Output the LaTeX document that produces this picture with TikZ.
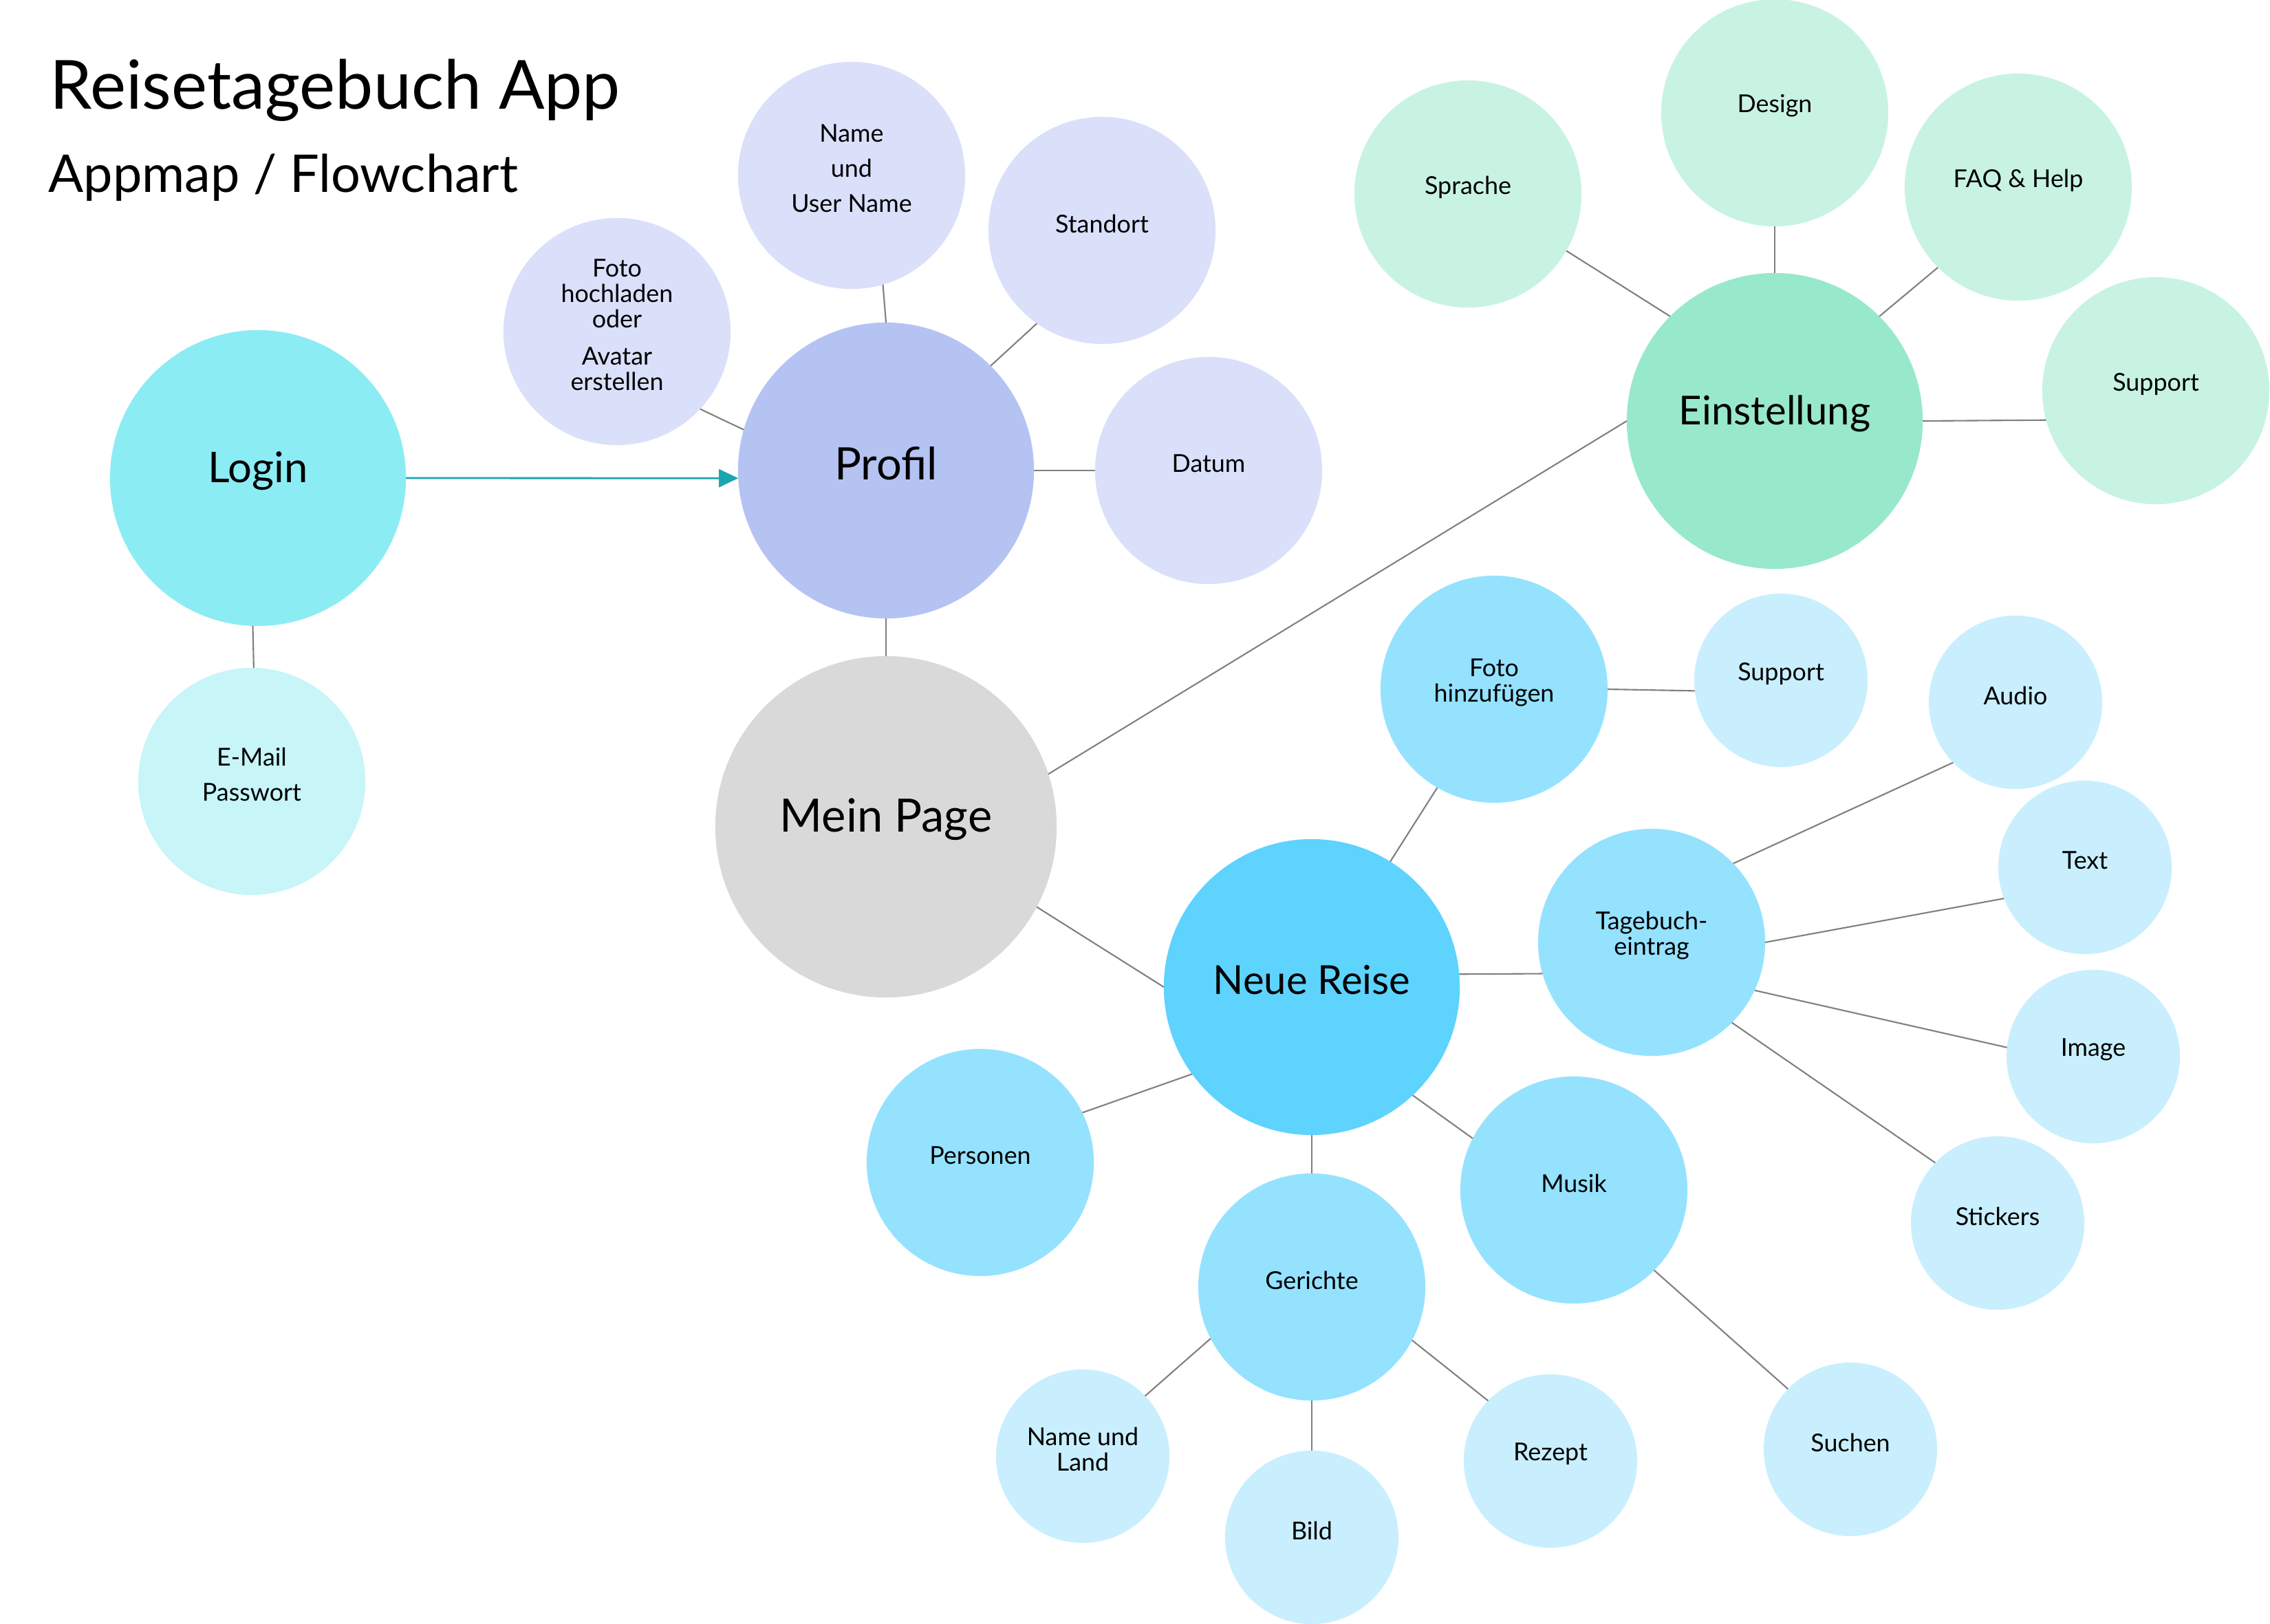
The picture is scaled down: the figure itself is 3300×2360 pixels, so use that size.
\documentclass[tikz,border=0pt]{standalone}
\usepackage{fontspec}
\setmainfont{Lato}
\usetikzlibrary{arrows.meta}
\definecolor{cLogin}{HTML}{8CECF4}
\definecolor{cMail}{HTML}{C7F5F8}
\definecolor{cProf}{HTML}{B5C3F3}
\definecolor{cProfK}{HTML}{DAE0FA}
\definecolor{cMP}{HTML}{D9D9D9}
\definecolor{cEin}{HTML}{98E9CB}
\definecolor{cEinK}{HTML}{C8F3E3}
\definecolor{cNR}{HTML}{5DD3FE}
\definecolor{cL2}{HTML}{95E2FF}
\definecolor{cL3}{HTML}{C9EFFE}
\definecolor{cLine}{HTML}{808080}
\definecolor{cArrow}{HTML}{1BA5AE}
\tikzset{
  bub/.style={circle, inner sep=0pt, outer sep=0pt, draw=none},
  bigbub/.style={bub, minimum size=4.3cm},
  midbub/.style={bub, minimum size=3.3cm},
  smlbub/.style={bub, minimum size=2.52cm},
  mpbub/.style={bub, minimum size=4.96cm},
  bigtxt/.style={inner sep=0pt, align=center, yshift=3pt, font=\fontsize{16.5}{19}\selectfont},
  stxt/.style={inner sep=0pt, align=center, yshift=2.8pt, font=\fontsize{10.2}{10.6}\selectfont},
  wtxt/.style={inner sep=0pt, align=center, yshift=2.8pt, font=\fontsize{10.2}{14.5}\selectfont},
  conn/.style={draw=cLine, line width=0.6pt},
  arr/.style={draw=cArrow, line width=0.8pt, -{Triangle[length=0.28cm, width=0.26cm]}}
}
\begin{document}
\begin{tikzpicture}[x=0.01cm, y=-0.01cm]
\path[use as bounding box, fill=white] (0,0) rectangle (3300,2360);

% title
\node[anchor=base west, inner sep=0pt, font=\fontsize{28}{32}\selectfont] (title) at (72,158) {Reisetagebuch App};
\node[anchor=base west, inner sep=0pt, font=\fontsize{21.5}{25}\selectfont] (subtitle) at (70,279) {Appmap / Flowchart};

% circles
\node[bigbub, fill=cLogin] (login) at (375,695) {};
\node[midbub, fill=cMail] (email) at (366,1136) {};
\node[bigbub, fill=cProf] (prof) at (1288,684) {};
\node[midbub, fill=cProfK] (fotoh) at (897,482) {};
\node[midbub, fill=cProfK] (name) at (1238,255) {};
\node[midbub, fill=cProfK] (stand) at (1602,335) {};
\node[midbub, fill=cProfK] (datum) at (1757,684) {};
\node[mpbub, fill=cMP] (mp) at (1288,1202) {};
\node[bigbub, fill=cEin] (ein) at (2580,612) {};
\node[midbub, fill=cEinK] (sprache) at (2134,282) {};
\node[midbub, fill=cEinK] (design) at (2580,164) {};
\node[midbub, fill=cEinK] (faq) at (2934,272) {};
\node[midbub, fill=cEinK] (supA) at (3134,568) {};
\node[bigbub, fill=cNR] (nr) at (1907,1435) {};
\node[midbub, fill=cL2] (fotoz) at (2172,1002) {};
\node[smlbub, fill=cL3] (supB) at (2589,989) {};
\node[midbub, fill=cL2] (tb) at (2401,1370) {};
\node[smlbub, fill=cL3] (audio) at (2930,1021) {};
\node[smlbub, fill=cL3] (text) at (3031,1261) {};
\node[smlbub, fill=cL3] (image) at (3043,1536) {};
\node[smlbub, fill=cL3] (stick) at (2904,1778) {};
\node[midbub, fill=cL2] (pers) at (1425,1690) {};
\node[midbub, fill=cL2] (musik) at (2288,1730) {};
\node[midbub, fill=cL2] (ger) at (1907,1871) {};
\node[smlbub, fill=cL3] (nul) at (1574,2117) {};
\node[smlbub, fill=cL3] (bild) at (1907,2235) {};
\node[smlbub, fill=cL3] (rez) at (2254,2124) {};
\node[smlbub, fill=cL3] (such) at (2690,2107) {};

% texts
\node[bigtxt, font=\fontsize{17.5}{20}\selectfont] (login-t) at (login) {Login};
\node[wtxt] (email-t) at (email) {E-Mail\\Passwort};
\node[bigtxt, font=\fontsize{18.5}{21}\selectfont] (prof-t) at (prof) {Profil};
\node[stxt] (fotoh-t) at (fotoh) {Foto\\hochladen\\oder\\[4.5pt]Avatar\\erstellen};
\node[wtxt] (name-t) at (name) {Name\\und\\User Name};
\node[stxt] (stand-t) at (stand) {Standort};
\node[stxt] (datum-t) at (datum) {Datum};
\node[bigtxt, font=\fontsize{19}{22}\selectfont] (mp-t) at (mp) {Mein Page};
\node[bigtxt] (ein-t) at (ein) {Einstellung};
\node[stxt] (sprache-t) at (sprache) {Sprache};
\node[stxt] (design-t) at (design) {Design};
\node[stxt] (faq-t) at (faq) {FAQ \& Help};
\node[stxt] (supA-t) at (supA) {Support};
\node[bigtxt] (nr-t) at (nr) {Neue Reise};
\node[stxt] (fotoz-t) at (fotoz) {Foto\\hinzufügen};
\node[stxt] (supB-t) at (supB) {Support};
\node[stxt] (tb-t) at (tb) {Tagebuch-\\eintrag};
\node[stxt] (audio-t) at (audio) {Audio};
\node[stxt] (text-t) at (text) {Text};
\node[stxt] (image-t) at (image) {Image};
\node[stxt] (stick-t) at (stick) {Stickers};
\node[stxt] (pers-t) at (pers) {Personen};
\node[stxt] (musik-t) at (musik) {Musik};
\node[stxt] (ger-t) at (ger) {Gerichte};
\node[stxt] (nul-t) at (nul) {Name und\\Land};
\node[stxt] (bild-t) at (bild) {Bild};
\node[stxt] (rez-t) at (rez) {Rezept};
\node[stxt] (such-t) at (such) {Suchen};

% connectors
\draw[arr] (login.0) -- (prof.183);
\draw[conn] (login.268) -- (email.89);
\draw[conn] (fotoh.-43) -- (prof.164);
\draw[conn] (name.-74) -- (prof.90);
\draw[conn] (stand.235) -- (prof.45);
\draw[conn] (prof.0) -- (datum.180);
\draw[conn] (prof.270) -- (mp.90);
\draw[conn] (mp.18) -- (ein.180);
\draw[conn] (sprache.-30) -- (ein.135);
\draw[conn] (design.270) -- (ein.90);
\draw[conn] (faq.225) -- (ein.45);
\draw[conn] (ein.0) -- (supA.195);
\draw[conn] (mp.-28) -- (nr.180);
\draw[conn] (nr.58) -- (fotoz.240);
\draw[conn] (fotoz.0) -- (supB.187);
\draw[conn] (nr.5) -- (tb.196);
\draw[conn] (nr.-47) -- (musik.153);
\draw[conn] (nr.270) -- (ger.90);
\draw[conn] (nr.216) -- (pers.26);
\draw[conn] (tb.44) -- (audio.224);
\draw[conn] (tb.0) -- (text.201);
\draw[conn] (tb.-25) -- (image.174);
\draw[conn] (tb.-45) -- (stick.136);
\draw[conn] (musik.-45) -- (such.136);
\draw[conn] (ger.207) -- (nul.44);
\draw[conn] (ger.270) -- (bild.90);
\draw[conn] (ger.-28) -- (rez.136);
\end{tikzpicture}
\end{document}
